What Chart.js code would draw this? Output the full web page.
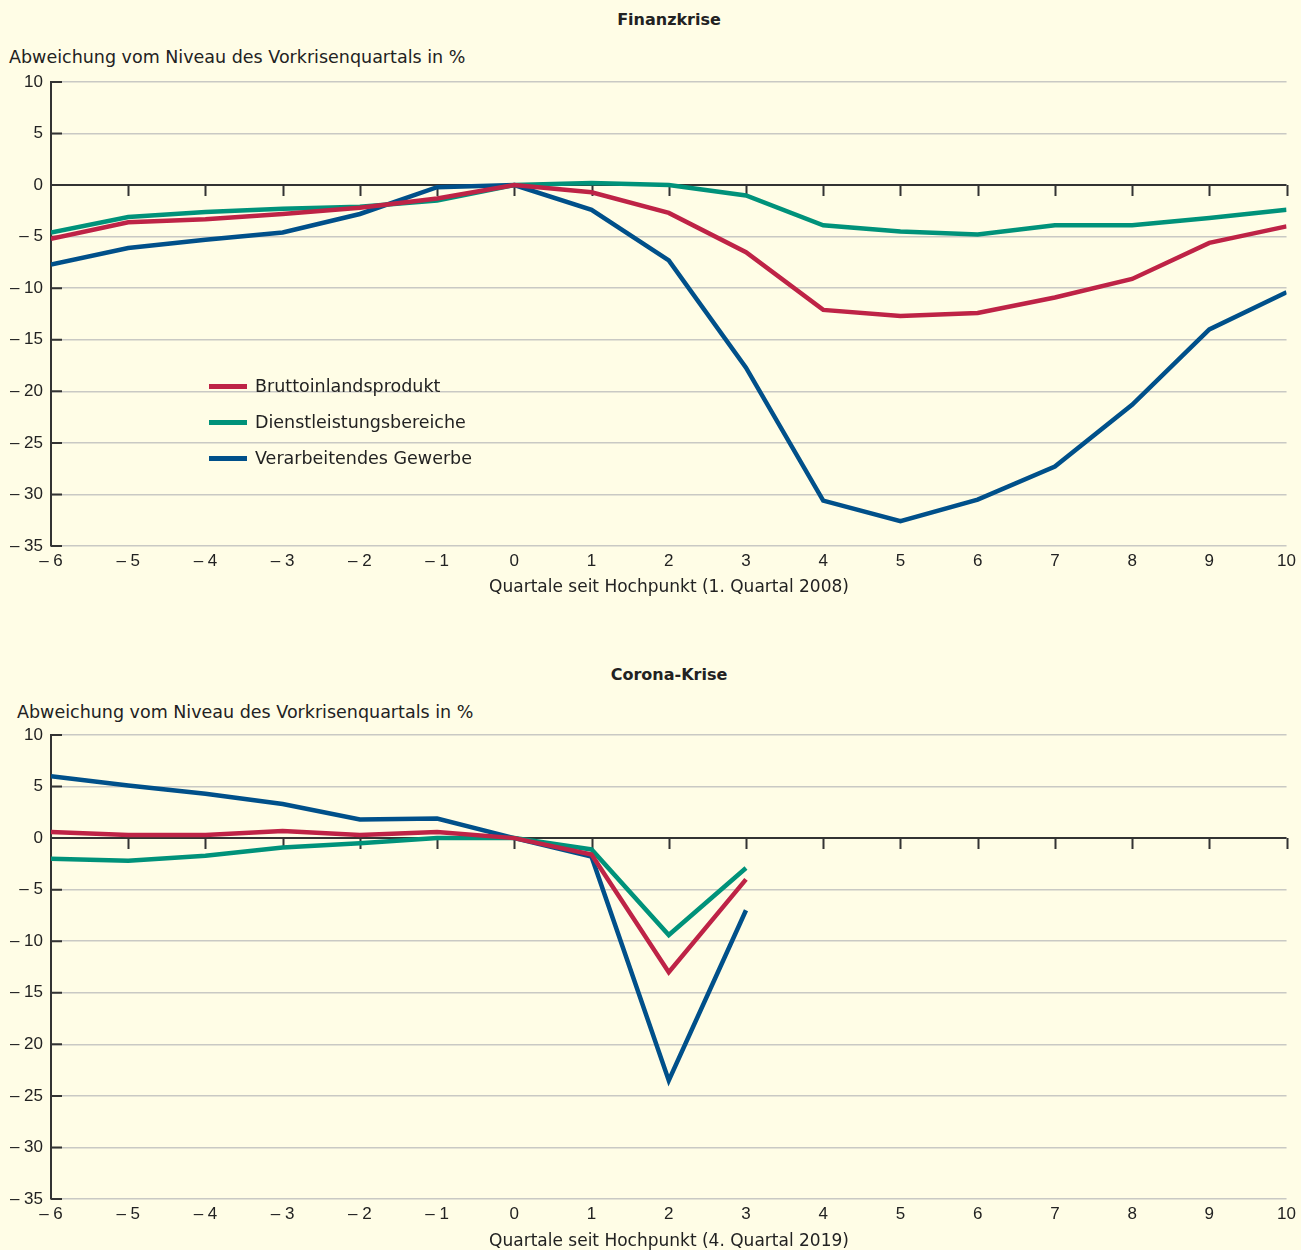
<!DOCTYPE html>
<html lang="de">
<head>
<meta charset="utf-8">
<script src="https://cdn.jsdelivr.net/npm/chart.js@4.4.1/dist/chart.umd.min.js"></script>
<style>
    body { margin: 0; background: #fffde6; font-family: "DejaVu Sans", sans-serif; color: #222; }
    #wrap { position: relative; width: 1301px; height: 1250px; overflow: hidden; }
    canvas { position: absolute; left: 0; }
    .txt { position: absolute; white-space: nowrap; font-size: 17.5px; line-height: 20px; }
    .ttl { position: absolute; white-space: nowrap; font-size: 16px; font-weight: bold; line-height: 18px; transform: translateX(-50%); }
    .xt { transform: translateX(-50%); font-size: 17px; }
    .leg { position: absolute; left: 209px; font-size: 17.5px; line-height: 20px; white-space: nowrap; }
    .leg span.ln { display: inline-block; width: 38px; height: 5px; vertical-align: middle; margin-right: 8px; position: relative; top: -1px; }
</style>
</head>
<body>
<div id="wrap">
    <div class="ttl" style="left:669px; top:11px;">Finanzkrise</div>
    <div class="txt" style="left:9px; top:47px;">Abweichung vom Niveau des Vorkrisenquartals in %</div>
    <canvas id="chartFinanz" width="1301" height="620" style="top:0; width:1301px; height:620px;"></canvas>
    <div class="txt xt" style="left:669px; top:576px;">Quartale seit Hochpunkt (1. Quartal 2008)</div>

    <div class="ttl" style="left:669px; top:666px;">Corona-Krise</div>
    <div class="txt" style="left:17px; top:702px;">Abweichung vom Niveau des Vorkrisenquartals in %</div>
    <canvas id="chartCorona" width="1301" height="625" style="top:625px; width:1301px; height:625px;"></canvas>
    <div class="txt xt" style="left:669px; top:1230px;">Quartale seit Hochpunkt (4. Quartal 2019)</div>

    <div class="leg" style="top:376px;"><span class="ln" style="background:#be2346"></span>Bruttoinlandsprodukt</div>
    <div class="leg" style="top:412px;"><span class="ln" style="background:#00927a"></span>Dienstleistungsbereiche</div>
    <div class="leg" style="top:448px;"><span class="ln" style="background:#00508a"></span>Verarbeitendes Gewerbe</div>
</div>

<script>
// Quartale relativ zum Hochpunkt
const quarters = [-6, -5, -4, -3, -2, -1, 0, 1, 2, 3, 4, 5, 6, 7, 8, 9, 10];
const coronaQuarters = [-6, -5, -4, -3, -2, -1, 0, 1, 2, 3];

// Finanzkrise
const finBip = [-5.2, -3.6, -3.3, -2.8, -2.2, -1.3, 0, -0.7, -2.7, -6.5, -12.1, -12.7, -12.4, -10.9, -9.1, -5.6, -4.0];
const finDienst = [-4.6, -3.1, -2.6, -2.3, -2.1, -1.5, 0, 0.2, 0.0, -1.0, -3.9, -4.5, -4.8, -3.9, -3.9, -3.2, -2.4];
const finGewerbe = [-7.7, -6.1, -5.3, -4.6, -2.8, -0.2, 0, -2.4, -7.3, -17.7, -30.6, -32.6, -30.5, -27.3, -21.3, -14.0, -10.4];

// Corona-Krise
const corBip = [0.6, 0.3, 0.3, 0.7, 0.3, 0.6, 0, -1.6, -13.0, -4.0];
const corDienst = [-2.0, -2.2, -1.7, -0.9, -0.5, 0.0, 0, -1.1, -9.4, -2.9];
const corGewerbe = [6.0, 5.1, 4.3, 3.3, 1.8, 1.9, 0, -1.8, -23.5, -7.0];

const yTicks = [10, 5, 0, -5, -10, -15, -20, -25, -30, -35];

const colors = { red: '#be2346', green: '#00927a', blue: '#00508a', axis: '#333333', grid: '#c9c9c4' };

// Zahlen mit Gedankenstrich als Minus
function fmt(v) {
    return v < 0 ? '\u2013 ' + Math.abs(v) : String(v);
}

function series(xs, ys) {
    return xs.map((x, i) => ({ x: x, y: ys[i] }));
}

// Tick-Striche an der Nulllinie und an der y-Achse
const tickMarks = {
    id: 'tickMarks',
    beforeDatasetsDraw(chart) {
        const ctx = chart.ctx;
        const xs = chart.scales.x;
        const ys = chart.scales.y;
        const y0 = ys.getPixelForValue(0);
        ctx.save();
        ctx.strokeStyle = colors.axis;
        ctx.lineWidth = 2;
        ctx.beginPath();
        for (let q = -5; q <= 10; q++) {
            const px = Math.round(xs.getPixelForValue(q)) + 0.5;
            ctx.moveTo(px, y0);
            ctx.lineTo(px, y0 + 11);
        }
        yTicks.forEach(v => {
            const py = ys.getPixelForValue(v);
            ctx.moveTo(xs.left, py);
            ctx.lineTo(xs.left + 11, py);
        });
        ctx.stroke();
        ctx.restore();
    }
};

function makeChart(id, xs, bip, dienst, gewerbe, topPad, xHeight) {
    const data = {
        datasets: [
            { label: 'Bruttoinlandsprodukt', data: series(xs, bip), borderColor: colors.red },
            { label: 'Dienstleistungsbereiche', data: series(xs, dienst), borderColor: colors.green },
            { label: 'Verarbeitendes Gewerbe', data: series(xs, gewerbe), borderColor: colors.blue }
        ]
    };
    const options = {
        responsive: false,
        animation: false,
        layout: { padding: { left: 0, right: 14, top: topPad, bottom: 0 } },
        elements: {
            line: { borderWidth: 4.5, tension: 0 },
            point: { radius: 0 }
        },
        plugins: {
            legend: { display: false },
            tooltip: { enabled: false }
        },
        scales: {
            x: {
                type: 'linear',
                min: -6,
                max: 10,
                afterFit: s => { s.height = xHeight; },
                afterBuildTicks: s => { s.ticks = quarters.map(v => ({ value: v })); },
                grid: { display: false, drawTicks: false },
                border: { display: false },
                ticks: {
                    color: '#222',
                    padding: 5,
                    font: { family: 'Liberation Sans', size: 17 },
                    callback: v => fmt(v),
                    maxRotation: 0,
                    autoSkip: false
                }
            },
            y: {
                min: -35,
                max: 10,
                afterFit: s => { s.width = 51; },
                afterBuildTicks: s => { s.ticks = yTicks.map(v => ({ value: v })); },
                grid: {
                    drawTicks: false,
                    color: c => (c.tick && c.tick.value === 0) ? colors.axis : colors.grid,
                    lineWidth: c => (c.tick && c.tick.value === 0) ? 2 : 1.5
                },
                border: { display: true, color: colors.axis, width: 2 },
                ticks: {
                    color: '#222',
                    padding: 8,
                    font: { family: 'Liberation Sans', size: 17 },
                    callback: v => fmt(v)
                }
            }
        }
    };
    return new Chart(document.getElementById(id), {
        type: 'line',
        data: data,
        options: options,
        plugins: [tickMarks]
    });
}

const finanzChart = makeChart('chartFinanz', quarters, finBip, finDienst, finGewerbe, 82, 74);
const coronaChart = makeChart('chartCorona', coronaQuarters, corBip, corDienst, corGewerbe, 110, 51);
</script>
</body>
</html>
